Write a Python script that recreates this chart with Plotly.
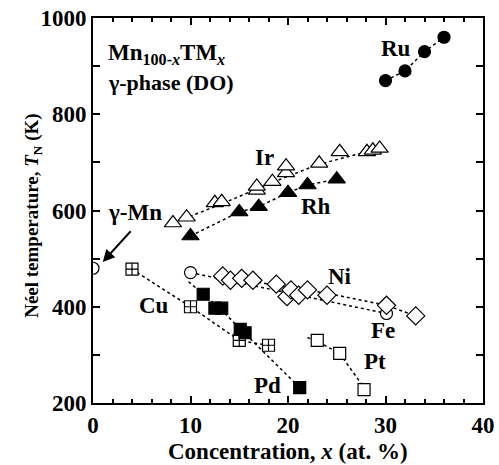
import plotly.graph_objects as go

# ---- data ----
ru_x = [30, 32, 34, 36]
ru_y = [870, 890, 930, 960]

ir_x = [8.2, 9.6, 12.5, 13.2, 16.8, 16.8, 18.4, 19.8, 19.8, 23.2, 25.3, 28.1, 28.7, 29.4]
ir_y = [574, 586, 616, 618, 642, 650, 660, 678, 692, 698, 722, 722, 725, 729]
ir_fit_x = [8.2, 13, 18, 23, 29.4]
ir_fit_y = [574, 612, 655, 695, 729]

rh_x = [10, 15, 17, 20, 22, 25]
rh_y = [547, 597, 608, 637, 653, 665]

mn_x = [0]
mn_y = [480]

cu_x = [4, 10, 15, 18]
cu_y = [478, 400, 330, 320]

pd_x = [11.3, 12.5, 13.2, 15.1, 15.6, 21.2]
pd_y = [426, 397, 397, 353, 346, 232]
pd_fit_x = [9.8, 11.3, 13, 15.3, 21.2]
pd_fit_y = [452, 426, 397, 350, 232]

pt_x = [23, 25.3, 27.8]
pt_y = [330, 303, 228]
pt_fit_x = [22, 23, 25.3, 27.8]
pt_fit_y = [336, 328, 303, 232]

fe_x = [10, 30.1]
fe_y = [471, 386]

ni_x = [13.3, 14.1, 15.25, 16.4, 18.8, 19.9, 20.3, 21.1, 22.0, 24.0, 30.1, 33.1]
ni_y = [464, 455, 459, 455, 447, 421, 435, 424, 435, 424, 403, 381]
ni_fit_x = [13.3, 18, 24, 30.1, 33.1]
ni_fit_y = [464, 447, 428, 403, 381]

labels = [("Ru", 31.1, 936), ("Ir", 17.6, 711), ("Rh", 22.9, 608), ("Ni", 25.3, 462),
          ("Fe", 29.7, 350), ("Pt", 28.9, 286), ("Pd", 17.9, 237), ("Cu", 6.3, 403),
          ("γ-Mn", 4.3, 595)]

FONT = "Liberation Serif"
fig = go.Figure()

def line(x, y):
    fig.add_trace(go.Scatter(x=x, y=y, mode="lines", showlegend=False,
                             line=dict(color="black", width=1.5, dash="3px,3px"),
                             hoverinfo="skip"))

def pts(x, y, symbol, fill, size=12):
    fig.add_trace(go.Scatter(x=x, y=y, mode="markers", showlegend=False,
                             marker=dict(symbol=symbol, color=fill, size=size,
                                         line=dict(color="black", width=1.2))))

# fit / guide lines
line(ru_x, ru_y)
line(ir_fit_x, ir_fit_y)
line(rh_x, rh_y)
line(cu_x, cu_y)
line(pd_fit_x, pd_fit_y)
line(pt_fit_x, pt_fit_y)
line(fe_x, fe_y)
line(ni_fit_x, ni_fit_y)

# markers
pts(ru_x, ru_y, "circle", "black", 12)
pts(ir_x, ir_y, "triangle-up", "white", 15)
pts(rh_x, rh_y, "triangle-up", "black", 15)
pts(cu_x, cu_y, "square-cross", "white", 12)
pts(pd_x, pd_y, "square", "black", 12)
pts(pt_x, pt_y, "square", "white", 12)
pts(fe_x, fe_y, "circle", "white", 12)
pts(ni_x, ni_y, "diamond", "white", 14)
pts(mn_x, mn_y, "circle", "white", 12)

for txt, x, y in labels:
    fig.add_annotation(x=x, y=y, text=f"<b>{txt}</b>", showarrow=False,
                       font=dict(family=FONT, size=23, color="black"))

# arrow for gamma-Mn
fig.add_annotation(x=1.0, y=493, ax=4.0, ay=560, xref="x", yref="y", axref="x", ayref="y",
                   text="", showarrow=True, arrowhead=2, arrowsize=1.2, arrowwidth=2,
                   arrowcolor="black")

# composition labels
fig.add_annotation(x=1.3, y=926, xanchor="left", showarrow=False,
                   text="<b>Mn<sub>100-<i>x</i></sub>TM<sub><i>x</i></sub></b>",
                   font=dict(family=FONT, size=23, color="black"))
fig.add_annotation(x=1.3, y=866, xanchor="left", showarrow=False,
                   text="<b>γ-phase (DO)</b>",
                   font=dict(family=FONT, size=22, color="black"))

# axis titles placed as paper annotations for precise position
fig.add_annotation(x=0.5, y=-0.125, xref="paper", yref="paper", yanchor="middle",
                   showarrow=False, text="<b>Concentration, <i>x</i> (at. %)</b>",
                   font=dict(family=FONT, size=23, color="black"))
fig.add_annotation(x=-0.154, y=0.486, xref="paper", yref="paper", xanchor="center",
                   yanchor="middle", textangle=-90, showarrow=False,
                   text="<b>Néel temperature, <i>T</i><sub>N</sub> (K)</b>",
                   font=dict(family=FONT, size=19, color="black"))

axis_common = dict(showline=True, linecolor="black", linewidth=2, mirror="ticks",
                   ticks="inside", ticklen=7, tickwidth=2, tickcolor="black",
                   showgrid=False, zeroline=False, automargin=False,
                   tickfont=dict(family=FONT, size=23, color="black"))

fig.update_xaxes(range=[0, 40], tickvals=[0, 10, 20, 30, 40],
                 ticktext=["<b>0</b>", "<b>10</b>", "<b>20</b>", "<b>30</b>", "<b>40</b>"],
                 minor=dict(ticks="inside", ticklen=4, tickwidth=1.5, tickcolor="black", dtick=2),
                 **axis_common)
fig.update_yaxes(range=[200, 1000], tickvals=[200, 400, 600, 800, 1000],
                 ticktext=["<b>200</b>", "<b>400</b>", "<b>600</b>", "<b>800</b>", "<b>1000</b>"],
                 minor=dict(ticks="inside", ticklen=7, tickwidth=2, tickcolor="black", dtick=100),
                 **axis_common)

fig.update_layout(width=499, height=465, margin=dict(l=93, r=16, t=18, b=62),
                  plot_bgcolor="white", paper_bgcolor="white")

fig.write_html("out.html")
